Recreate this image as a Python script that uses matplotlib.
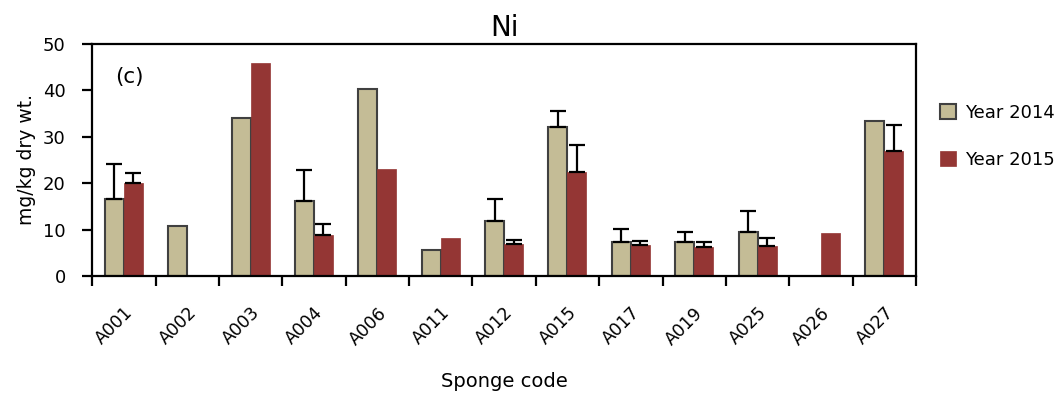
import numpy as np
import matplotlib.pyplot as plt

codes = ['A001', 'A002', 'A003', 'A004', 'A006', 'A011', 'A012',
         'A015', 'A017', 'A019', 'A025', 'A026', 'A027']
ni_2014 = [16.7, 10.8, 34.1, 16.2, 40.3, 5.6, 11.9, 32.0, 7.3, 7.3, 9.5, np.nan, 33.5]
ni_2015 = [20.0, np.nan, 45.8, 8.8, 23.1, 8.2, 6.9, 22.4, 6.7, 6.2, 6.5, 9.3, 26.9]
sd_2014 = [7.4, 0, 0, 6.6, 0, 0, 4.7, 3.6, 2.8, 2.2, 4.5, 0, 0]
sd_2015 = [2.3, 0, 0, 2.3, 0, 0, 0.9, 5.8, 0.9, 1.1, 1.6, 0, 5.6]

plt.rcParams['font.family'] = 'DejaVu Sans'

fig = plt.figure(figsize=(10.59, 3.96), dpi=100)
ax = fig.add_axes([0.087, 0.303, 0.778, 0.586])

x = np.arange(len(codes))
w = 0.3
beige = '#c4bc96'
red = '#943634'

b1 = ax.bar(x - w/2, ni_2014, w, color=beige, edgecolor='#404040', linewidth=1.5,
            label='Year 2014', zorder=2)
b2 = ax.bar(x + w/2, ni_2015, w, color=red, edgecolor=red, linewidth=0.5,
            label='Year 2015', zorder=2)

# upper error bars only, skip groups without a measured spread
for offset, vals, sd in [(-w/2, ni_2014, sd_2014), (w/2, ni_2015, sd_2015)]:
    vals = np.array(vals)
    sd = np.array(sd)
    keep = sd > 0
    ax.errorbar(x[keep] + offset, vals[keep],
                yerr=[np.zeros(keep.sum()), sd[keep]],
                fmt='none', ecolor='black', elinewidth=1.6, capsize=6,
                capthick=1.6, zorder=3)

ax.set_xlim(-0.5, len(codes) - 0.5)
ax.set_ylim(0, 50)
ax.set_yticks(range(0, 51, 10))
ax.set_xticks(x)
ax.set_xticklabels(codes, rotation=45, ha='right', rotation_mode='anchor', fontsize=12.5)
ax.set_xticks(np.arange(-0.5, len(codes)), minor=True)
ax.tick_params(axis='x', which='major', length=0, pad=20)
ax.tick_params(axis='x', which='minor', length=7, width=1.6, direction='out')
ax.tick_params(axis='y', length=7, width=1.6, direction='out', labelsize=13, pad=12)
for s in ax.spines.values():
    s.set_linewidth(1.6)

ax.set_title('Ni', fontsize=20, pad=6)
ax.set_ylabel('mg/kg dry wt.', fontsize=13.5, labelpad=5)
ax.set_xlabel('Sponge code', fontsize=14, labelpad=17)
ax.text(0.028, 0.83, '(c)', transform=ax.transAxes, fontsize=15.5)

fig.legend(handles=[b1, b2], loc='center left', bbox_to_anchor=(0.872, 0.655),
           frameon=False, fontsize=13, handlelength=0.9, handleheight=0.9,
           handletextpad=0.5, labelspacing=1.6)

fig.savefig('out.png', dpi=100)
